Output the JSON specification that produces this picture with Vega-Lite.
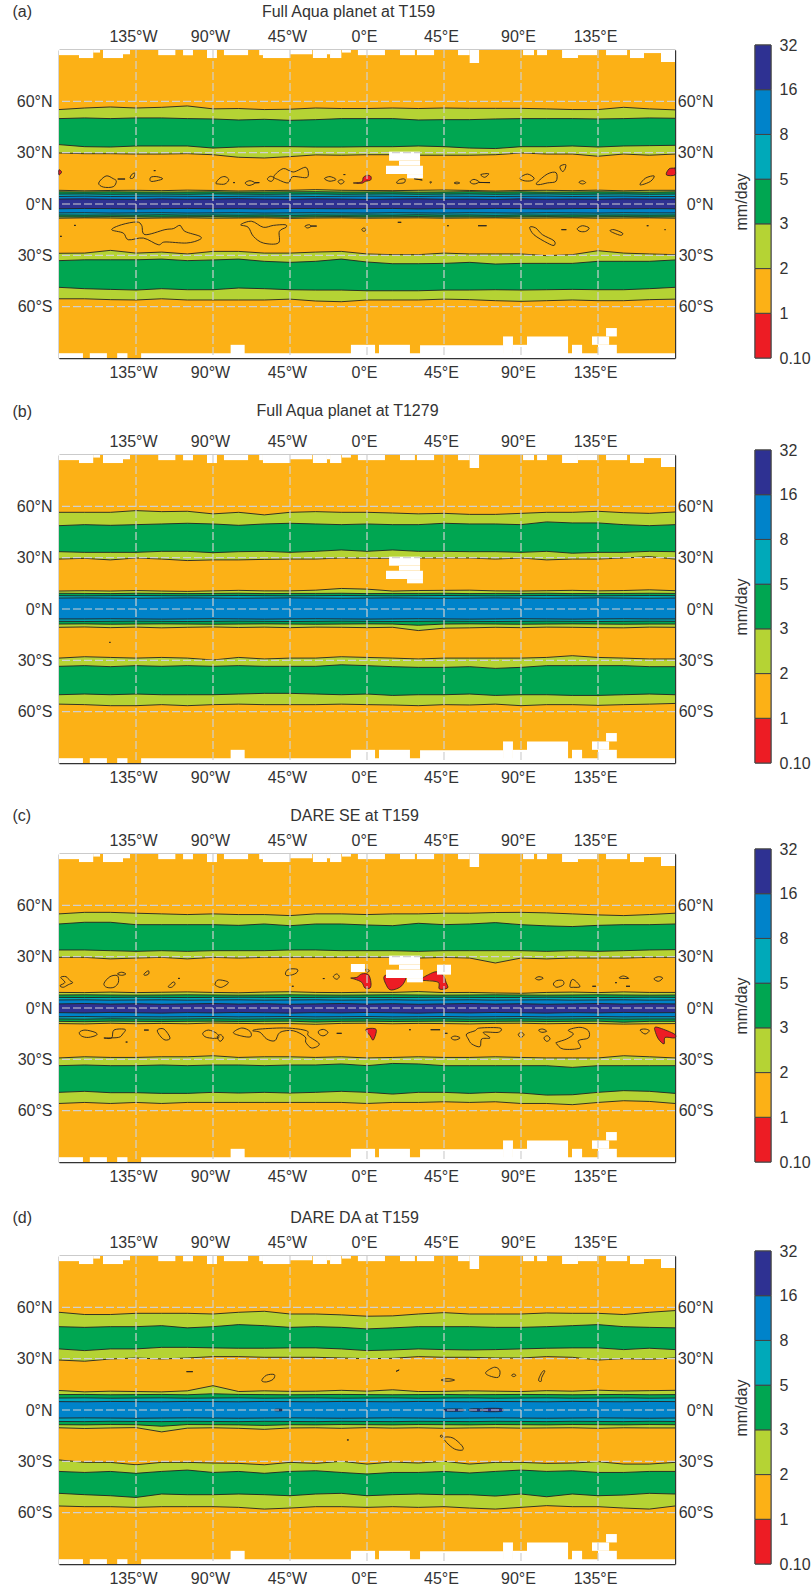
{"$schema":"https://vega.github.io/schema/vega-lite/v6.json","padding":{"left":12,"top":3,"right":0,"bottom":0},"config":{"view":{"stroke":null},"axis":{"labelFont":"Liberation Sans","labelFontSize":16,"labelColor":"#333","ticks":false,"domainColor":"#333","domainWidth":1.4,"labelOverlap":false,"labelFlush":false,"labelBound":false,"titleFont":"Liberation Sans","titleFontSize":16,"titleFontWeight":"normal","titleColor":"#333","zindex":1}},
"datasets":{
"a":[
{"x":-180,"n1":55.2,"n2":49.9,"n3":34.7,"n4":29.8,"t1":8,"t2":7.1,"t3":5.8,"t4":4.4,"t5":2.9,"u5":-2.8,"u4":-5.2,"u3":-6.4,"u2":-7.5,"u1":-8.3,"m4":-28.8,"m3":-33.1,"m2":-48.7,"m1":-55.4},
{"x":-165,"n1":56.1,"n2":50.3,"n3":33.5,"n4":29.4,"t1":7.7,"t2":7,"t3":5.9,"t4":4.6,"t5":3,"u5":-2.6,"u4":-5.1,"u3":-6.5,"u2":-7.6,"u1":-8.1,"m4":-28.7,"m3":-32.6,"m2":-49.5,"m1":-55.4},
{"x":-150,"n1":56.7,"n2":49.9,"n3":33.3,"n4":29.4,"t1":7.9,"t2":7.1,"t3":5.7,"t4":4.4,"t5":2.8,"u5":-2.7,"u4":-5.3,"u3":-6.4,"u2":-7.4,"u1":-8.2,"m4":-27.1,"m3":-32.6,"m2":-49.9,"m1":-55.9},
{"x":-135,"n1":56.1,"n2":50.3,"n3":33.9,"n4":29.2,"t1":8,"t2":7,"t3":5.8,"t4":4.5,"t5":2.7,"u5":-2.9,"u4":-5.2,"u3":-6.5,"u2":-7.5,"u1":-8.4,"m4":-28.7,"m3":-32.6,"m2":-50.3,"m1":-56.1},
{"x":-120,"n1":56.5,"n2":50.3,"n3":33.9,"n4":29.2,"t1":7.8,"t2":6.9,"t3":5.8,"t4":4.6,"t5":3,"u5":-2.7,"u4":-5.1,"u3":-6.3,"u2":-7.6,"u1":-8.2,"m4":-28.1,"m3":-32.2,"m2":-49.5,"m1":-55.4},
{"x":-105,"n1":57.3,"n2":49.9,"n3":33.9,"n4":29.4,"t1":8.1,"t2":7,"t3":5.7,"t4":4.5,"t5":2.8,"u5":-2.6,"u4":-5.3,"u3":-6.5,"u2":-7.5,"u1":-8.1,"m4":-29.2,"m3":-33.1,"m2":-50.1,"m1":-56.1},
{"x":-90,"n1":55.6,"n2":49.7,"n3":32.7,"n4":28.8,"t1":7.9,"t2":7.1,"t3":5.9,"t4":4.4,"t5":2.9,"u5":-2.8,"u4":-5.2,"u3":-6.4,"u2":-7.4,"u1":-8.3,"m4":-27.7,"m3":-32.7,"m2":-50.1,"m1":-56.1},
{"x":-75,"n1":55.8,"n2":49.1,"n3":33.3,"n4":27.3,"t1":7.6,"t2":6.9,"t3":5.8,"t4":4.5,"t5":3.1,"u5":-2.7,"u4":-5.1,"u3":-6.5,"u2":-7.6,"u1":-8.2,"m4":-27.7,"m3":-32.2,"m2":-49.1,"m1":-56.1},
{"x":-60,"n1":55.2,"n2":49.5,"n3":33.5,"n4":26.9,"t1":7.8,"t2":7,"t3":5.7,"t4":4.6,"t5":2.9,"u5":-2.9,"u4":-5.3,"u3":-6.4,"u2":-7.5,"u1":-8.1,"m4":-28.7,"m3":-33.5,"m2":-49.5,"m1":-56.1},
{"x":-45,"n1":55.4,"n2":48.9,"n3":33.5,"n4":27.7,"t1":8,"t2":7.1,"t3":5.8,"t4":4.5,"t5":2.8,"u5":-2.6,"u4":-5.2,"u3":-6.6,"u2":-7.7,"u1":-8.4,"m4":-28.7,"m3":-34.1,"m2":-50.1,"m1":-55.6},
{"x":-30,"n1":56.1,"n2":49.3,"n3":33.3,"n4":28.7,"t1":8.4,"t2":7.2,"t3":5.9,"t4":4.4,"t5":3,"u5":-2.7,"u4":-5.1,"u3":-6.4,"u2":-7.5,"u1":-8.2,"m4":-28.1,"m3":-33.5,"m2":-50.3,"m1":-56.7},
{"x":-15,"n1":55.8,"n2":49.9,"n3":33.3,"n4":28.5,"t1":8,"t2":7,"t3":5.7,"t4":4.5,"t5":2.9,"u5":-2.8,"u4":-5.2,"u3":-6.5,"u2":-7.4,"u1":-8.1,"m4":-27.7,"m3":-32.2,"m2":-50.3,"m1":-57.1},
{"x":0,"n1":55.8,"n2":49.9,"n3":33.5,"n4":28.8,"t1":7.9,"t2":7,"t3":5.8,"t4":4.6,"t5":2.7,"u5":-2.7,"u4":-5.3,"u3":-6.4,"u2":-7.6,"u1":-8.3,"m4":-29.2,"m3":-33.9,"m2":-50.7,"m1":-56.1},
{"x":15,"n1":56.1,"n2":49.9,"n3":33.5,"n4":28.8,"t1":7.8,"t2":7.1,"t3":5.9,"t4":4.5,"t5":2.9,"u5":-2.6,"u4":-5.1,"u3":-6.5,"u2":-7.5,"u1":-8.2,"m4":-29.6,"m3":-34.9,"m2":-50.7,"m1":-56.1},
{"x":30,"n1":55.8,"n2":49.1,"n3":33.9,"n4":28.5,"t1":8,"t2":6.9,"t3":5.7,"t4":4.4,"t5":3,"u5":-2.9,"u4":-5.2,"u3":-6.3,"u2":-7.4,"u1":-8.1,"m4":-29.6,"m3":-34.9,"m2":-50.7,"m1":-56.1},
{"x":45,"n1":56.1,"n2":49.3,"n3":33.5,"n4":28.5,"t1":8.2,"t2":7,"t3":5.8,"t4":4.6,"t5":2.8,"u5":-2.7,"u4":-5.3,"u3":-6.5,"u2":-7.6,"u1":-8.3,"m4":-28.7,"m3":-34.7,"m2":-50.3,"m1":-55.6},
{"x":60,"n1":55.9,"n2":49.3,"n3":32.7,"n4":28.5,"t1":7.9,"t2":7.2,"t3":5.9,"t4":4.5,"t5":2.9,"u5":-2.8,"u4":-5.1,"u3":-6.4,"u2":-7.5,"u1":-8.2,"m4":-29.2,"m3":-34.1,"m2":-50.3,"m1":-55.9},
{"x":75,"n1":55.9,"n2":49.7,"n3":32.4,"n4":28.8,"t1":7.6,"t2":7,"t3":5.7,"t4":4.4,"t5":2.7,"u5":-2.6,"u4":-5.2,"u3":-6.6,"u2":-7.6,"u1":-8.1,"m4":-29.2,"m3":-35.1,"m2":-50.1,"m1":-56.5},
{"x":90,"n1":55.9,"n2":49.9,"n3":33.5,"n4":29.8,"t1":7.9,"t2":7.1,"t3":5.8,"t4":4.5,"t5":3,"u5":-2.7,"u4":-5.3,"u3":-6.4,"u2":-7.5,"u1":-8.3,"m4":-29.2,"m3":-34.7,"m2":-50.3,"m1":-56.9},
{"x":105,"n1":55.6,"n2":49.9,"n3":33.5,"n4":29.2,"t1":8,"t2":6.9,"t3":5.9,"t4":4.6,"t5":2.8,"u5":-2.9,"u4":-5.1,"u3":-6.5,"u2":-7.4,"u1":-8.2,"m4":-30.2,"m3":-34.7,"m2":-50.1,"m1":-56.5},
{"x":120,"n1":55.2,"n2":49.9,"n3":33.9,"n4":29.2,"t1":7.8,"t2":7,"t3":5.7,"t4":4.4,"t5":2.9,"u5":-2.7,"u4":-5.2,"u3":-6.4,"u2":-7.6,"u1":-8.1,"m4":-29.6,"m3":-34.7,"m2":-49.9,"m1":-56.1},
{"x":135,"n1":55.2,"n2":49.7,"n3":33.3,"n4":27.9,"t1":8.1,"t2":7.1,"t3":5.8,"t4":4.5,"t5":2.8,"u5":-2.6,"u4":-5.3,"u3":-6.5,"u2":-7.5,"u1":-8.3,"m4":-27.3,"m3":-33.5,"m2":-50.1,"m1":-56.5},
{"x":150,"n1":56.5,"n2":49.9,"n3":33.9,"n4":29.2,"t1":7.7,"t2":7,"t3":5.9,"t4":4.6,"t5":3,"u5":-2.8,"u4":-5.1,"u3":-6.4,"u2":-7.4,"u1":-8.2,"m4":-28.7,"m3":-33.5,"m2":-50.1,"m1":-56.5},
{"x":165,"n1":55.6,"n2":50.3,"n3":34.1,"n4":28.5,"t1":8,"t2":6.9,"t3":5.7,"t4":4.4,"t5":2.9,"u5":-2.7,"u4":-5.2,"u3":-6.5,"u2":-7.6,"u1":-8.1,"m4":-29.2,"m3":-33.5,"m2":-49.5,"m1":-55.9},
{"x":180,"n1":55,"n2":50.1,"n3":34.3,"n4":29.2,"t1":8,"t2":7.1,"t3":5.8,"t4":4.4,"t5":2.9,"u5":-2.8,"u4":-5.2,"u3":-6.4,"u2":-7.5,"u1":-8.3,"m4":-29.6,"m3":-32.7,"m2":-48.7,"m1":-55.6}],
"b":[
{"x":-180,"n1":56.5,"n2":48.7,"n3":33.5,"n4":29.2,"t1":10.5,"t2":9.2,"t3":7.8,"t4":6.4,"u4":-5.8,"u3":-7.2,"u2":-8.8,"u1":-10.7,"m4":-28.7,"m3":-33.5,"m2":-50.1,"m1":-55.6},
{"x":-165,"n1":56.5,"n2":49.3,"n3":33.1,"n4":29.6,"t1":10.7,"t2":9.1,"t3":7.7,"t4":6.5,"u4":-5.8,"u3":-7.3,"u2":-8.7,"u1":-10.5,"m4":-27.9,"m3":-33.1,"m2":-49.7,"m1":-55.9},
{"x":-150,"n1":56.5,"n2":48.9,"n3":33.1,"n4":28.7,"t1":10.5,"t2":9,"t3":7.8,"t4":6.4,"u4":-5.7,"u3":-7.2,"u2":-8.9,"u1":-10.9,"m4":-28.3,"m3":-33.7,"m2":-50.1,"m1":-56.5},
{"x":-135,"n1":57.5,"n2":49.3,"n3":33.1,"n4":29.8,"t1":10.8,"t2":9.2,"t3":7.9,"t4":6.3,"u4":-5.8,"u3":-7.1,"u2":-8.8,"u1":-10.6,"m4":-28.7,"m3":-33.1,"m2":-49.7,"m1":-56.5},
{"x":-120,"n1":56.9,"n2":49.7,"n3":33.7,"n4":29.2,"t1":10.5,"t2":9.1,"t3":7.8,"t4":6.4,"u4":-5.9,"u3":-7.2,"u2":-8.7,"u1":-11,"m4":-28.3,"m3":-33.5,"m2":-50.1,"m1":-55.9},
{"x":-105,"n1":57.1,"n2":50.1,"n3":33.7,"n4":28.3,"t1":10.3,"t2":9,"t3":7.7,"t4":6.5,"u4":-5.8,"u3":-7.3,"u2":-8.8,"u1":-10.7,"m4":-28.7,"m3":-33.1,"m2":-50.1,"m1":-56.5},
{"x":-90,"n1":55.6,"n2":49.7,"n3":32.9,"n4":28.7,"t1":10.6,"t2":9.1,"t3":7.8,"t4":6.4,"u4":-5.7,"u3":-7.2,"u2":-8.9,"u1":-10.5,"m4":-29.8,"m3":-33.5,"m2":-50.1,"m1":-55.9},
{"x":-75,"n1":56.5,"n2":48.9,"n3":33.5,"n4":28.7,"t1":10.9,"t2":9.2,"t3":7.9,"t4":6.3,"u4":-5.8,"u3":-7.1,"u2":-8.8,"u1":-10.8,"m4":-28.3,"m3":-33.1,"m2":-49.7,"m1":-55.6},
{"x":-60,"n1":55,"n2":49.7,"n3":33.7,"n4":29,"t1":10.6,"t2":9,"t3":7.8,"t4":6.4,"u4":-5.9,"u3":-7.2,"u2":-8.7,"u1":-10.6,"m4":-29.2,"m3":-33.5,"m2":-49.3,"m1":-55.9},
{"x":-45,"n1":56.5,"n2":50.1,"n3":33.1,"n4":29.2,"t1":10.6,"t2":9.1,"t3":7.7,"t4":6.5,"u4":-5.8,"u3":-7.3,"u2":-8.8,"u1":-10.9,"m4":-28.7,"m3":-33.5,"m2":-49.3,"m1":-55.9},
{"x":-30,"n1":56.9,"n2":49.7,"n3":33.7,"n4":29.2,"t1":11,"t2":9.1,"t3":7.8,"t4":6.4,"u4":-5.7,"u3":-7.2,"u2":-8.9,"u1":-10.6,"m4":-28.7,"m3":-33.5,"m2":-49.7,"m1":-55.9},
{"x":-15,"n1":56.5,"n2":49.3,"n3":34.5,"n4":29.8,"t1":12,"t2":9.2,"t3":7.9,"t4":6.3,"u4":-5.8,"u3":-7.1,"u2":-8.8,"u1":-10.7,"m4":-27.9,"m3":-32.6,"m2":-50.1,"m1":-55.6},
{"x":0,"n1":56.5,"n2":49.7,"n3":33.7,"n4":29.6,"t1":11.6,"t2":9,"t3":7.8,"t4":6.4,"u4":-5.9,"u3":-7.2,"u2":-8.7,"u1":-10.9,"m4":-28.3,"m3":-33.1,"m2":-49.7,"m1":-55.9},
{"x":15,"n1":56.1,"n2":49.3,"n3":34.5,"n4":29.6,"t1":10.5,"t2":9.1,"t3":7.7,"t4":6.5,"u4":-5.8,"u3":-7.3,"u2":-8.8,"u1":-10.7,"m4":-28.7,"m3":-33.7,"m2":-50.5,"m1":-56.1},
{"x":30,"n1":55.6,"n2":49.3,"n3":33.7,"n4":29.8,"t1":10.8,"t2":9.1,"t3":7.8,"t4":6.4,"u4":-5.7,"u3":-7.2,"u2":-9.5,"u1":-12.6,"m4":-29.2,"m3":-34.1,"m2":-50.1,"m1":-56.5},
{"x":45,"n1":55.9,"n2":50.1,"n3":33.7,"n4":29.8,"t1":10.9,"t2":9.2,"t3":7.9,"t4":6.3,"u4":-5.8,"u3":-7.1,"u2":-8.8,"u1":-11.2,"m4":-28.7,"m3":-34.1,"m2":-50.1,"m1":-55.9},
{"x":60,"n1":55.3,"n2":49.7,"n3":33.5,"n4":29.8,"t1":11,"t2":9,"t3":7.8,"t4":6.4,"u4":-5.9,"u3":-7.2,"u2":-8.7,"u1":-11,"m4":-28.7,"m3":-33.7,"m2":-49.7,"m1":-56.1},
{"x":75,"n1":55.3,"n2":49.7,"n3":33.5,"n4":29.2,"t1":10.6,"t2":9.1,"t3":7.7,"t4":6.5,"u4":-5.8,"u3":-7.3,"u2":-8.8,"u1":-10.7,"m4":-28.7,"m3":-34.7,"m2":-50.5,"m1":-55.6},
{"x":90,"n1":55.9,"n2":49.3,"n3":33.1,"n4":29.8,"t1":10.5,"t2":9.1,"t3":7.8,"t4":6.4,"u4":-5.7,"u3":-7.2,"u2":-8.9,"u1":-10.9,"m4":-28.7,"m3":-34.1,"m2":-50.1,"m1":-56.5},
{"x":105,"n1":56.5,"n2":50.9,"n3":33.7,"n4":28.7,"t1":10.7,"t2":9.2,"t3":7.9,"t4":6.3,"u4":-5.8,"u3":-7.1,"u2":-8.8,"u1":-10.6,"m4":-28.3,"m3":-33.1,"m2":-50.1,"m1":-55.9},
{"x":120,"n1":56.5,"n2":50.3,"n3":32.6,"n4":29.2,"t1":10.9,"t2":9,"t3":7.8,"t4":6.4,"u4":-5.9,"u3":-7.2,"u2":-8.7,"u1":-10.7,"m4":-27.3,"m3":-33.1,"m2":-50.5,"m1":-55.9},
{"x":135,"n1":57.1,"n2":50.3,"n3":33.1,"n4":29.2,"t1":10.6,"t2":9.1,"t3":7.7,"t4":6.5,"u4":-5.8,"u3":-7.3,"u2":-8.8,"u1":-10.9,"m4":-28.3,"m3":-33.1,"m2":-50.5,"m1":-56.3},
{"x":150,"n1":56.3,"n2":49.3,"n3":33.1,"n4":29.8,"t1":10.8,"t2":9.1,"t3":7.8,"t4":6.4,"u4":-5.7,"u3":-7.2,"u2":-8.9,"u1":-11,"m4":-28.7,"m3":-33.1,"m2":-50.1,"m1":-55.9},
{"x":165,"n1":55.9,"n2":48.7,"n3":33.7,"n4":30.6,"t1":11.2,"t2":9.2,"t3":7.9,"t4":6.3,"u4":-5.8,"u3":-7.1,"u2":-8.8,"u1":-10.6,"m4":-29.2,"m3":-33.7,"m2":-49.7,"m1":-55.6},
{"x":180,"n1":56.7,"n2":49.3,"n3":33.5,"n4":29.2,"t1":10.7,"t2":9.1,"t3":7.8,"t4":6.4,"u4":-5.8,"u3":-7.2,"u2":-8.8,"u1":-10.7,"m4":-29.2,"m3":-33.7,"m2":-50.1,"m1":-55.2}],
"c":[
{"x":-180,"n1":55,"n2":49.1,"n3":33.9,"n4":29.6,"t1":9.1,"t2":7.6,"t3":6.2,"t4":4.7,"t5":2.4,"u5":-2.7,"u4":-5.1,"u3":-6.4,"u2":-7.8,"u1":-9.1,"m4":-29.2,"m3":-33.7,"m2":-49.3,"m1":-55.8},
{"x":-165,"n1":55.9,"n2":50.1,"n3":33.9,"n4":29.6,"t1":9,"t2":7.7,"t3":6.1,"t4":4.8,"t5":2.6,"u5":-2.9,"u4":-5,"u3":-6.5,"u2":-8,"u1":-9.3,"m4":-28.5,"m3":-33.3,"m2":-48.7,"m1":-55.2},
{"x":-150,"n1":55.9,"n2":50.1,"n3":33.5,"n4":28.7,"t1":9.3,"t2":7.6,"t3":6.2,"t4":4.6,"t5":2.3,"u5":-2.6,"u4":-5.2,"u3":-6.3,"u2":-7.7,"u1":-8.9,"m4":-28.9,"m3":-33.7,"m2":-49.5,"m1":-55.8},
{"x":-135,"n1":55.4,"n2":48.7,"n3":33.1,"n4":29.2,"t1":9,"t2":7.5,"t3":6.3,"t4":4.7,"t5":2.5,"u5":-2.8,"u4":-5.1,"u3":-6.4,"u2":-7.8,"u1":-9.2,"m4":-28.9,"m3":-33.7,"m2":-49.5,"m1":-55.2},
{"x":-120,"n1":55,"n2":48.7,"n3":33.5,"n4":29.6,"t1":9.2,"t2":7.6,"t3":6.2,"t4":4.8,"t5":2.2,"u5":-3,"u4":-5.2,"u3":-6.5,"u2":-7.9,"u1":-9,"m4":-28.5,"m3":-33.3,"m2":-49.9,"m1":-55.8},
{"x":-105,"n1":54.6,"n2":48.7,"n3":33.1,"n4":28.7,"t1":9.4,"t2":7.7,"t3":6.1,"t4":4.6,"t5":2.4,"u5":-2.7,"u4":-5.1,"u3":-6.4,"u2":-7.8,"u1":-9.2,"m4":-28.5,"m3":-33.7,"m2":-49.9,"m1":-55.2},
{"x":-90,"n1":55,"n2":48.7,"n3":33.5,"n4":29.6,"t1":9.1,"t2":7.6,"t3":6.2,"t4":4.7,"t5":2.6,"u5":-2.9,"u4":-5,"u3":-6.3,"u2":-7.7,"u1":-8.8,"m4":-27.9,"m3":-33.3,"m2":-49.3,"m1":-55.2},
{"x":-75,"n1":54.6,"n2":48.3,"n3":33.5,"n4":29.2,"t1":8.9,"t2":7.5,"t3":6.3,"t4":4.8,"t5":2.3,"u5":-2.6,"u4":-5.2,"u3":-6.5,"u2":-7.9,"u1":-9,"m4":-28.9,"m3":-33.3,"m2":-49.7,"m1":-55.2},
{"x":-60,"n1":54.6,"n2":49.1,"n3":33.5,"n4":29.6,"t1":9.3,"t2":7.6,"t3":6.2,"t4":4.6,"t5":2.5,"u5":-2.8,"u4":-5.1,"u3":-6.4,"u2":-7.8,"u1":-9.2,"m4":-28.5,"m3":-33.7,"m2":-49.3,"m1":-55.2},
{"x":-45,"n1":54,"n2":48.1,"n3":33.9,"n4":29.6,"t1":9.5,"t2":7.7,"t3":6.1,"t4":4.7,"t5":2.2,"u5":-3,"u4":-5,"u3":-6.3,"u2":-7.7,"u1":-9.1,"m4":-28.5,"m3":-33.3,"m2":-49.7,"m1":-55.2},
{"x":-30,"n1":55,"n2":49.1,"n3":33.9,"n4":29.6,"t1":9.1,"t2":7.6,"t3":6.2,"t4":4.8,"t5":2.4,"u5":-2.7,"u4":-5.2,"u3":-6.5,"u2":-8.2,"u1":-9.5,"m4":-28.9,"m3":-33.3,"m2":-49.3,"m1":-55.2},
{"x":-15,"n1":55,"n2":49.1,"n3":33.5,"n4":29.6,"t1":9,"t2":7.5,"t3":6.3,"t4":4.6,"t5":2.6,"u5":-2.9,"u4":-5.1,"u3":-6.4,"u2":-7.8,"u1":-9,"m4":-28.5,"m3":-32.7,"m2":-48.7,"m1":-55.2},
{"x":0,"n1":54.6,"n2":48.5,"n3":33.5,"n4":29.6,"t1":9.2,"t2":7.6,"t3":6.2,"t4":4.7,"t5":2.3,"u5":-2.6,"u4":-5,"u3":-6.3,"u2":-7.7,"u1":-8.9,"m4":-29.2,"m3":-33.7,"m2":-49.3,"m1":-55.8},
{"x":15,"n1":55,"n2":48.1,"n3":33.5,"n4":29.6,"t1":9.1,"t2":7.7,"t3":6.1,"t4":4.8,"t5":2.5,"u5":-2.8,"u4":-5.2,"u3":-6.5,"u2":-7.9,"u1":-9.2,"m4":-28.9,"m3":-32.4,"m2":-50.3,"m1":-55.2},
{"x":30,"n1":55,"n2":49.5,"n3":33.1,"n4":29.2,"t1":9.6,"t2":7.6,"t3":6.2,"t4":4.6,"t5":2.2,"u5":-3,"u4":-5.1,"u3":-6.4,"u2":-7.8,"u1":-9,"m4":-28.5,"m3":-32.7,"m2":-49.3,"m1":-55.2},
{"x":45,"n1":55.4,"n2":48.7,"n3":33.5,"n4":29.6,"t1":9,"t2":7.5,"t3":6.3,"t4":4.7,"t5":2.4,"u5":-2.7,"u4":-5,"u3":-6.3,"u2":-7.7,"u1":-9.1,"m4":-28.9,"m3":-33.7,"m2":-49.3,"m1":-54.8},
{"x":60,"n1":55.4,"n2":49.1,"n3":33.5,"n4":29.2,"t1":9.1,"t2":7.6,"t3":6.2,"t4":4.8,"t5":2.6,"u5":-2.9,"u4":-5.2,"u3":-6.5,"u2":-7.9,"u1":-9.3,"m4":-28.9,"m3":-33.7,"m2":-49.9,"m1":-55.2},
{"x":75,"n1":55.8,"n2":49.9,"n3":33.5,"n4":26.3,"t1":8.8,"t2":7.7,"t3":6.1,"t4":4.6,"t5":2.3,"u5":-2.6,"u4":-5.1,"u3":-6.4,"u2":-7.8,"u1":-9,"m4":-28.5,"m3":-33.7,"m2":-49.3,"m1":-54.8},
{"x":90,"n1":55.9,"n2":48.7,"n3":33.5,"n4":29.2,"t1":8.6,"t2":7.6,"t3":6.2,"t4":4.7,"t5":2.5,"u5":-2.8,"u4":-5,"u3":-6.3,"u2":-7.7,"u1":-8.9,"m4":-28.9,"m3":-33.7,"m2":-49.7,"m1":-55.8},
{"x":105,"n1":55.6,"n2":48,"n3":33.1,"n4":28.7,"t1":9.1,"t2":7.5,"t3":6.3,"t4":4.8,"t5":2.2,"u5":-3,"u4":-5.2,"u3":-6.5,"u2":-7.9,"u1":-9.2,"m4":-29.2,"m3":-33.7,"m2":-50.9,"m1":-55.8},
{"x":120,"n1":55,"n2":47.6,"n3":33.5,"n4":29.2,"t1":9.3,"t2":7.6,"t3":6.2,"t4":4.6,"t5":2.4,"u5":-2.7,"u4":-5.1,"u3":-6.4,"u2":-7.8,"u1":-9,"m4":-29.2,"m3":-34.7,"m2":-50.7,"m1":-56.5},
{"x":135,"n1":54.4,"n2":48.3,"n3":33.1,"n4":29.2,"t1":9,"t2":7.7,"t3":6.1,"t4":4.7,"t5":2.6,"u5":-2.9,"u4":-5,"u3":-6.3,"u2":-7.7,"u1":-9.1,"m4":-29.2,"m3":-33.7,"m2":-49.3,"m1":-55.2},
{"x":150,"n1":54,"n2":48.7,"n3":33.5,"n4":29.2,"t1":9.4,"t2":7.6,"t3":6.2,"t4":4.8,"t5":2.3,"u5":-2.6,"u4":-5.2,"u3":-6.5,"u2":-8.3,"u1":-9.4,"m4":-27.9,"m3":-33.7,"m2":-48.3,"m1":-54.2},
{"x":165,"n1":54.6,"n2":48.7,"n3":33.9,"n4":29.6,"t1":9.1,"t2":7.5,"t3":6.3,"t4":4.6,"t5":2.5,"u5":-2.8,"u4":-5.1,"u3":-6.4,"u2":-7.8,"u1":-9.2,"m4":-28.5,"m3":-33.7,"m2":-48.7,"m1":-54.6},
{"x":180,"n1":55.4,"n2":49.1,"n3":34.1,"n4":29.6,"t1":9.1,"t2":7.6,"t3":6.2,"t4":4.7,"t5":2.4,"u5":-2.7,"u4":-5.1,"u3":-6.4,"u2":-7.8,"u1":-9.1,"m4":-29.2,"m3":-33.7,"m2":-49.9,"m1":-55.8}],
"d":[
{"x":-180,"n1":57.1,"n2":48.7,"n3":35.7,"n4":29.2,"t1":11.4,"t2":9,"t3":7,"t4":4.9,"u4":-4.7,"u3":-6.7,"u2":-8.6,"u1":-10.4,"m4":-29.2,"m3":-35.9,"m2":-48.7,"m1":-56.1},
{"x":-165,"n1":55.8,"n2":48.3,"n3":34.7,"n4":28.5,"t1":10.6,"t2":9.1,"t3":7.1,"t4":4.8,"u4":-4.6,"u3":-6.8,"u2":-8.7,"u1":-10.8,"m4":-30.6,"m3":-36.5,"m2":-49.5,"m1":-56.5},
{"x":-150,"n1":55.8,"n2":48.7,"n3":35.7,"n4":29.8,"t1":11,"t2":8.9,"t3":6.9,"t4":5,"u4":-4.7,"u3":-6.6,"u2":-8.5,"u1":-10.5,"m4":-30.6,"m3":-35.9,"m2":-50.1,"m1":-56.5},
{"x":-135,"n1":56.5,"n2":48.7,"n3":35.7,"n4":30.4,"t1":10.8,"t2":9,"t3":7,"t4":4.9,"u4":-4.8,"u3":-6.7,"u2":-8.6,"u1":-10.3,"m4":-32,"m3":-37,"m2":-51.1,"m1":-56.9},
{"x":-120,"n1":56.5,"n2":49.3,"n3":36.6,"n4":29.8,"t1":10.6,"t2":9.1,"t3":7.1,"t4":4.8,"u4":-4.7,"u3":-6.8,"u2":-9.5,"u1":-12.8,"m4":-30.6,"m3":-35.9,"m2":-49.1,"m1":-56.5},
{"x":-105,"n1":56.5,"n2":48,"n3":36.6,"n4":30.4,"t1":11.2,"t2":8.9,"t3":6.9,"t4":5,"u4":-4.6,"u3":-6.6,"u2":-8.5,"u1":-10.6,"m4":-30.6,"m3":-35.1,"m2":-49.5,"m1":-56.5},
{"x":-90,"n1":56.1,"n2":48.7,"n3":36.3,"n4":31.2,"t1":14.2,"t2":9.5,"t3":7,"t4":4.9,"u4":-4.7,"u3":-6.7,"u2":-8.6,"u1":-10.4,"m4":-31,"m3":-36.5,"m2":-49.5,"m1":-56.5},
{"x":-75,"n1":57.1,"n2":49.9,"n3":36.1,"n4":31.2,"t1":10.8,"t2":9.1,"t3":7.1,"t4":4.8,"u4":-4.8,"u3":-6.8,"u2":-8.7,"u1":-10.7,"m4":-31.2,"m3":-35.9,"m2":-49.1,"m1":-56.9},
{"x":-60,"n1":57.7,"n2":49.3,"n3":36.1,"n4":30.8,"t1":11.2,"t2":9,"t3":6.9,"t4":5,"u4":-4.7,"u3":-6.6,"u2":-9,"u1":-11.3,"m4":-32,"m3":-37,"m2":-49.5,"m1":-57.9},
{"x":-45,"n1":56.1,"n2":48.3,"n3":36.3,"n4":30.8,"t1":10.9,"t2":8.9,"t3":7,"t4":4.9,"u4":-4.6,"u3":-6.7,"u2":-8.6,"u1":-10.5,"m4":-30.6,"m3":-35.9,"m2":-50.1,"m1":-57.3},
{"x":-30,"n1":56.1,"n2":48.7,"n3":36.3,"n4":30.8,"t1":11,"t2":9,"t3":7.1,"t4":4.8,"u4":-4.7,"u3":-6.8,"u2":-8.7,"u1":-10.4,"m4":-31.2,"m3":-35.5,"m2":-49.1,"m1":-56.5},
{"x":-15,"n1":55.6,"n2":48.3,"n3":35.7,"n4":30.4,"t1":11.5,"t2":9.1,"t3":6.9,"t4":5,"u4":-4.8,"u3":-6.6,"u2":-8.5,"u1":-10.7,"m4":-30,"m3":-36.5,"m2":-48.7,"m1":-56.5},
{"x":0,"n1":54.8,"n2":47.4,"n3":34.7,"n4":30,"t1":11,"t2":9,"t3":7,"t4":4.9,"u4":-4.7,"u3":-6.7,"u2":-8.6,"u1":-10.3,"m4":-31.6,"m3":-37.4,"m2":-50.1,"m1":-56.9},
{"x":15,"n1":55,"n2":48,"n3":35.1,"n4":30.2,"t1":11.8,"t2":8.9,"t3":7.1,"t4":4.8,"u4":-4.6,"u3":-6.8,"u2":-8.7,"u1":-10.6,"m4":-30.4,"m3":-36.5,"m2":-49.5,"m1":-56.5},
{"x":30,"n1":56.1,"n2":48.7,"n3":35.7,"n4":31.2,"t1":10.8,"t2":9,"t3":6.9,"t4":5,"u4":-4.7,"u3":-6.6,"u2":-8.5,"u1":-10.4,"m4":-31,"m3":-36.5,"m2":-49.1,"m1":-56.9},
{"x":45,"n1":56.9,"n2":48.7,"n3":35.3,"n4":30.8,"t1":10.9,"t2":9.1,"t3":7,"t4":4.9,"u4":-4.8,"u3":-6.7,"u2":-8.6,"u1":-10.7,"m4":-30,"m3":-35.9,"m2":-49.5,"m1":-56.5},
{"x":60,"n1":56.1,"n2":48.7,"n3":35.1,"n4":30.8,"t1":11.2,"t2":8.9,"t3":7.1,"t4":4.8,"u4":-4.7,"u3":-6.8,"u2":-8.7,"u1":-10.5,"m4":-31.6,"m3":-36.8,"m2":-49.5,"m1":-57.3},
{"x":75,"n1":56.1,"n2":48.3,"n3":35.3,"n4":30.4,"t1":11,"t2":9,"t3":6.9,"t4":5,"u4":-4.6,"u3":-6.6,"u2":-8.5,"u1":-10.4,"m4":-30.6,"m3":-35.9,"m2":-50.3,"m1":-57.9},
{"x":90,"n1":56.1,"n2":48.3,"n3":35.7,"n4":30.4,"t1":10.8,"t2":9.1,"t3":7,"t4":4.9,"u4":-4.7,"u3":-6.7,"u2":-8.6,"u1":-10.6,"m4":-30.6,"m3":-35.1,"m2":-49.1,"m1":-56.9},
{"x":105,"n1":56.7,"n2":48.7,"n3":36.1,"n4":31.2,"t1":11.3,"t2":9,"t3":7.1,"t4":4.8,"u4":-4.8,"u3":-6.8,"u2":-8.7,"u1":-10.5,"m4":-31.2,"m3":-35.9,"m2":-50.7,"m1":-55.9},
{"x":120,"n1":56.5,"n2":49.3,"n3":36.3,"n4":30.8,"t1":11,"t2":8.9,"t3":6.9,"t4":5,"u4":-4.7,"u3":-6.6,"u2":-8.5,"u1":-10.4,"m4":-31,"m3":-35.5,"m2":-49.1,"m1":-56.5},
{"x":135,"n1":56.5,"n2":49.9,"n3":36.3,"n4":29.2,"t1":11.6,"t2":9,"t3":7,"t4":4.9,"u4":-4.6,"u3":-6.7,"u2":-8.6,"u1":-10.7,"m4":-30.2,"m3":-36.5,"m2":-50.1,"m1":-56.5},
{"x":150,"n1":55.8,"n2":48.7,"n3":35.3,"n4":30,"t1":11.1,"t2":9.1,"t3":7.1,"t4":4.8,"u4":-4.7,"u3":-6.8,"u2":-8.7,"u1":-10.4,"m4":-31.6,"m3":-36.5,"m2":-49.7,"m1":-57.3},
{"x":165,"n1":57.1,"n2":48.3,"n3":36.1,"n4":29.6,"t1":11.3,"t2":8.9,"t3":6.9,"t4":5,"u4":-4.8,"u3":-6.6,"u2":-8.5,"u1":-10.5,"m4":-31.6,"m3":-35.9,"m2":-48.7,"m1":-57.9},
{"x":180,"n1":58.1,"n2":48,"n3":35.3,"n4":30.4,"t1":11.5,"t2":9,"t3":7,"t4":4.9,"u4":-4.7,"u3":-6.7,"u2":-8.6,"u1":-10.5,"m4":-30.6,"m3":-35.9,"m2":-49.1,"m1":-56.1}],
"bg":[{"x1":-180,"x2":180,"y1":-90,"y2":90}],
"gx":[{"v":-135},{"v":-90},{"v":-45},{"v":0},{"v":45},{"v":90},{"v":135}],
"gy":[{"v":-60},{"v":-30},{"v":0},{"v":30},{"v":60}],
"mask":[
{"s":0,"x1":-180,"x2":-168.3,"y1":87,"y2":90},{"s":0,"x1":-168.3,"x2":-160,"y1":85.3,"y2":90},{"s":0,"x1":-160,"x2":-156,"y1":88.5,"y2":90},{"s":0,"x1":-154.3,"x2":-142.6,"y1":85.3,"y2":90},{"s":0,"x1":-142.6,"x2":-138.5,"y1":87.5,"y2":90},{"s":0,"x1":-122,"x2":-112,"y1":87,"y2":90},{"s":0,"x1":-107.5,"x2":-101.7,"y1":87,"y2":90},{"s":0,"x1":-93.5,"x2":-87.7,"y1":85.3,"y2":90},{"s":0,"x1":-83.6,"x2":-69.5,"y1":87,"y2":90},{"s":0,"x1":-63,"x2":-60.8,"y1":87,"y2":90},{"s":0,"x1":-60.8,"x2":-45,"y1":85.3,"y2":90},{"s":0,"x1":-45,"x2":-32,"y1":87.5,"y2":90},{"s":0,"x1":-31.6,"x2":-23.4,"y1":85.3,"y2":90},{"s":0,"x1":-23.4,"x2":-21.6,"y1":87.5,"y2":90},{"s":0,"x1":-21.6,"x2":-15,"y1":85.3,"y2":90},{"s":0,"x1":-14.6,"x2":-9.4,"y1":88.5,"y2":90},{"s":0,"x1":-5.3,"x2":10.5,"y1":87,"y2":90},{"s":0,"x1":19.3,"x2":28,"y1":87,"y2":90},{"s":0,"x1":29.2,"x2":39.2,"y1":87,"y2":90},{"s":0,"x1":53.2,"x2":60,"y1":87,"y2":90},{"s":0,"x1":60,"x2":65.5,"y1":82.4,"y2":90},{"s":0,"x1":91.2,"x2":97.6,"y1":87,"y2":90},{"s":0,"x1":99.4,"x2":105.2,"y1":87,"y2":90},{"s":0,"x1":114,"x2":123.3,"y1":85.3,"y2":90},{"s":0,"x1":123.3,"x2":134.4,"y1":87,"y2":90},{"s":0,"x1":139.7,"x2":152,"y1":87,"y2":90},{"s":0,"x1":153.7,"x2":161.9,"y1":85.3,"y2":90},{"s":0,"x1":161.9,"x2":171.8,"y1":88.2,"y2":90},{"s":0,"x1":171.8,"x2":180,"y1":83,"y2":90},
{"s":0,"x1":-180,"x2":-166,"y1":-90,"y2":-87.2},{"s":0,"x1":-162,"x2":-152,"y1":-90,"y2":-87.2},{"s":0,"x1":-146,"x2":-140,"y1":-90,"y2":-87.2},{"s":0,"x1":-132,"x2":180,"y1":-90,"y2":-87.2},{"s":0,"x1":-79.7,"x2":-71.5,"y1":-90,"y2":-82.3},{"s":0,"x1":-9.4,"x2":4.7,"y1":-90,"y2":-82.3},{"s":0,"x1":7,"x2":25.1,"y1":-90,"y2":-82.3},{"s":0,"x1":31,"x2":79.5,"y1":-90,"y2":-82.5},{"s":0,"x1":79.5,"x2":85.3,"y1":-90,"y2":-77.4},{"s":0,"x1":85.3,"x2":93.5,"y1":-90,"y2":-82.3},{"s":0,"x1":93.5,"x2":117.5,"y1":-90,"y2":-77.4},{"s":0,"x1":119.8,"x2":125.7,"y1":-90,"y2":-82.3},{"s":0,"x1":135,"x2":146,"y1":-90,"y2":-82.3},{"s":0,"x1":131.5,"x2":141.5,"y1":-82.3,"y2":-77.4},{"s":0,"x1":139.7,"x2":146,"y1":-77.4,"y2":-72.5},
{"s":1,"x1":12.9,"x2":31,"y1":25.3,"y2":30.6},{"s":1,"x1":18.7,"x2":31,"y1":22.4,"y2":25.3},{"s":1,"x1":11.1,"x2":32.7,"y1":17.5,"y2":22.4},{"s":1,"x1":23.4,"x2":32.7,"y1":15,"y2":17.5},
{"s":2,"x1":-9.4,"x2":-1.2,"y1":21,"y2":25.7},{"s":2,"x1":40.9,"x2":49.1,"y1":19.5,"y2":25.3}],
"bar":[{"lo":0,"hi":1},{"lo":1,"hi":2},{"lo":2,"hi":3},{"lo":3,"hi":4},{"lo":4,"hi":5},{"lo":5,"hi":6},{"lo":6,"hi":7}],
"spacer":[{"z":1}],
"ia":[
{"k":"A1","x":-156.8,"y":12.3},{"k":"A1","x":-152.5,"y":16.4},{"k":"A1","x":-148.3,"y":14.8},{"k":"A1","x":-146.5,"y":13.3},{"k":"A1","x":-148.3,"y":10.1},{"k":"A1","x":-154.1,"y":9.9},
{"k":"A2","x":-145.7,"y":14.6},{"k":"A2","x":-141.4,"y":14.6},
{"k":"A3","x":-138.5,"y":15.2},{"k":"A3","x":-137.2,"y":17.5},{"k":"A3","x":-135.6,"y":17.9},{"k":"A3","x":-136.6,"y":15.2},
{"k":"A4","x":-124.6,"y":19.5},{"k":"A4","x":-123.6,"y":19.5},
{"k":"A5","x":-126.4,"y":15.6},{"k":"A5","x":-122.9,"y":16},{"k":"A5","x":-119.4,"y":14.8},{"k":"A5","x":-122.9,"y":13.6},{"k":"A5","x":-126.4,"y":13.3},
{"k":"A6","x":-88.3,"y":12.3},{"k":"A6","x":-85.9,"y":15.2},{"k":"A6","x":-83,"y":16},{"k":"A6","x":-80.8,"y":14.2},{"k":"A6","x":-83,"y":11.7},{"k":"A6","x":-86.9,"y":11.7},
{"k":"A7","x":-78.2,"y":12.5},{"k":"A7","x":-77.2,"y":12.5},
{"k":"A8","x":-71.1,"y":12.5},{"k":"A8","x":-68.4,"y":13.6},{"k":"A8","x":-65.5,"y":12.3},{"k":"A8","x":-68.4,"y":10.9},{"k":"A8","x":-70.3,"y":11.3},
{"k":"A8b","x":-65.5,"y":12.4},{"k":"A8b","x":-62.9,"y":12.5},
{"k":"A9","x":-58.1,"y":15},{"k":"A9","x":-56.3,"y":16.2},{"k":"A9","x":-54.4,"y":15.2},{"k":"A9","x":-55.7,"y":13.3},{"k":"A9","x":-57.7,"y":13.8},
{"k":"A10","x":-54.4,"y":16.2},{"k":"A10","x":-48.9,"y":20.7},{"k":"A10","x":-43.1,"y":18.7},{"k":"A10","x":-35.7,"y":21.4},{"k":"A10","x":-34.9,"y":15.6},{"k":"A10","x":-43.4,"y":16},{"k":"A10","x":-46,"y":12.3},{"k":"A10","x":-51.8,"y":14.2},
{"k":"A11","x":-24.5,"y":15.2},{"k":"A11","x":-21.6,"y":16},{"k":"A11","x":-18.1,"y":14.4},{"k":"A11","x":-21.6,"y":13.3},{"k":"A11","x":-24.5,"y":14.4},
{"k":"A12","x":-16.9,"y":13.3},{"k":"A12","x":-14.8,"y":14.2},{"k":"A12","x":-13.4,"y":12.9},{"k":"A12","x":-15.4,"y":11.7},
{"k":"A13","x":-13.7,"y":17.2},{"k":"A13","x":-12.7,"y":17.2},
{"k":"A16","x":17.3,"y":12.3},{"k":"A16","x":18.9,"y":14.2},{"k":"A16","x":22,"y":14.6},{"k":"A16","x":22,"y":12.7},{"k":"A16","x":19.7,"y":12.1},
{"k":"A17","x":27.5,"y":14.8},{"k":"A17","x":32.3,"y":14},
{"k":"A18","x":36.7,"y":12.9},{"k":"A18","x":37.7,"y":12.9},{"k":"A18","x":37.2,"y":12.2},
{"k":"A19","x":50.9,"y":12.3},{"k":"A19","x":52.5,"y":12.8},{"k":"A19","x":54.2,"y":12.3},{"k":"A19","x":52.5,"y":11.8},
{"k":"A20","x":60.2,"y":12.9},{"k":"A20","x":62.5,"y":14.4},{"k":"A20","x":65.5,"y":12.9},{"k":"A20","x":62.5,"y":11.7},
{"k":"A20b","x":65.5,"y":12.6},{"k":"A20b","x":71.9,"y":12.5},
{"k":"A21","x":66.5,"y":17.2},{"k":"A21","x":71.1,"y":17.7},{"k":"A21","x":68.8,"y":15.6},
{"k":"A22","x":89.4,"y":15.2},{"k":"A22","x":93.7,"y":17.5},{"k":"A22","x":97.6,"y":15.2},{"k":"A22","x":96,"y":13.6},{"k":"A22","x":91.8,"y":13.6},
{"k":"A23","x":99.2,"y":12.3},{"k":"A23","x":105.4,"y":17.5},{"k":"A23","x":110.5,"y":18.3},{"k":"A23","x":110.5,"y":13.3},{"k":"A23","x":105.4,"y":12.3},{"k":"A23","x":100.5,"y":11.3},
{"k":"A24","x":112.8,"y":22},{"k":"A24","x":116.1,"y":23},{"k":"A24","x":115.5,"y":20},{"k":"A24","x":114,"y":19.1},
{"k":"A25","x":123.9,"y":12.7},{"k":"A25","x":125.9,"y":13.6},{"k":"A25","x":127.8,"y":12.5},{"k":"A25","x":125.9,"y":11.7},
{"k":"A26","x":159.6,"y":11.7},{"k":"A26","x":162.9,"y":15.2},{"k":"A26","x":167.8,"y":16.4},{"k":"A26","x":165.8,"y":13.3},{"k":"A26","x":160.9,"y":11.3},
{"k":"S1","x":-149.2,"y":-15},{"k":"S1","x":-143.4,"y":-12.1},{"k":"S1","x":-134.6,"y":-10.5},{"k":"S1","x":-131.7,"y":-12.5},{"k":"S1","x":-129.7,"y":-17.9},{"k":"S1","x":-118.1,"y":-15},{"k":"S1","x":-113.2,"y":-14.4},{"k":"S1","x":-109.3,"y":-12.5},{"k":"S1","x":-106.4,"y":-16},{"k":"S1","x":-97.6,"y":-18.9},{"k":"S1","x":-98,"y":-20.9},{"k":"S1","x":-105.4,"y":-22.8},{"k":"S1","x":-118.1,"y":-22.2},{"k":"S1","x":-122,"y":-23.8},{"k":"S1","x":-130.7,"y":-19.9},{"k":"S1","x":-139.5,"y":-20.9},{"k":"S1","x":-142.4,"y":-17},
{"k":"S2","x":-73.8,"y":-12.1},{"k":"S2","x":-67.4,"y":-10.1},{"k":"S2","x":-60.6,"y":-13.6},{"k":"S2","x":-54.7,"y":-12.5},{"k":"S2","x":-47.9,"y":-12.1},{"k":"S2","x":-47.3,"y":-13.6},{"k":"S2","x":-51.2,"y":-16},{"k":"S2","x":-51.8,"y":-22.8},{"k":"S2","x":-60.6,"y":-22.8},{"k":"S2","x":-66.4,"y":-18.9},{"k":"S2","x":-69.4,"y":-13.6},
{"k":"S3","x":-36.2,"y":-12.9},{"k":"S3","x":-33.7,"y":-12.1},{"k":"S3","x":-32.9,"y":-13.3},{"k":"S3","x":-34.9,"y":-14},
{"k":"S3b","x":-32.9,"y":-12.9},{"k":"S3b","x":-29.4,"y":-12.9},
{"k":"S4","x":-3.1,"y":-15},{"k":"S4","x":-1.8,"y":-14},{"k":"S4","x":-0.6,"y":-15},{"k":"S4","x":-1.8,"y":-16},
{"k":"S5","x":-171.2,"y":-12.5},{"k":"S5","x":-170.2,"y":-12.5},
{"k":"S6","x":-179.4,"y":-18.9},{"k":"S6","x":-178.4,"y":-18.9},
{"k":"S7","x":18,"y":-10.7},{"k":"S7","x":20,"y":-10.7},
{"k":"S8","x":46.8,"y":-12.7},{"k":"S8","x":47.8,"y":-12.7},
{"k":"S8b","x":64.9,"y":-12.7},{"k":"S8b","x":69.9,"y":-12.7},
{"k":"S9","x":95.1,"y":-13.6},{"k":"S9","x":98.6,"y":-14},{"k":"S9","x":102.5,"y":-17.9},{"k":"S9","x":109.3,"y":-21.5},{"k":"S9","x":109.3,"y":-24.2},{"k":"S9","x":105.4,"y":-22.8},{"k":"S9","x":97.6,"y":-18},
{"k":"S10","x":113.6,"y":-15},{"k":"S10","x":116.5,"y":-15},
{"k":"S11","x":122.9,"y":-14.4},{"k":"S11","x":125.9,"y":-12.7},{"k":"S11","x":129.8,"y":-14},{"k":"S11","x":127.8,"y":-16},{"k":"S11","x":124.5,"y":-16},
{"k":"S12","x":142,"y":-15.6},{"k":"S12","x":144.4,"y":-15},{"k":"S12","x":149.3,"y":-17},{"k":"S12","x":148.3,"y":-18.3},{"k":"S12","x":144.4,"y":-17},
{"k":"S13","x":163.5,"y":-12.7},{"k":"S13","x":164.5,"y":-12.7},
{"k":"S14","x":173.9,"y":-15},{"k":"S14","x":174.5,"y":-15}],
"ib":[{"k":"B1","x":-150.6,"y":-19.5},{"k":"B1","x":-149.9,"y":-19.5}],
"ic":[
{"k":"C1","x":-179,"y":17.9},{"k":"C1","x":-175.9,"y":18.3},{"k":"C1","x":-173.6,"y":16},{"k":"C1","x":-172,"y":14.8},{"k":"C1","x":-174.6,"y":13.6},{"k":"C1","x":-177.5,"y":12.1},{"k":"C1","x":-179.4,"y":13.1},{"k":"C1","x":-176.5,"y":15},
{"k":"C2","x":-153.7,"y":14.4},{"k":"C2","x":-150.2,"y":18.3},{"k":"C2","x":-145.9,"y":18.9},{"k":"C2","x":-145.3,"y":15},{"k":"C2","x":-147.9,"y":12.1},{"k":"C2","x":-152.2,"y":12.1},
{"k":"C3","x":-145.9,"y":19.9},{"k":"C3","x":-143.4,"y":20.9},{"k":"C3","x":-140.9,"y":19.9},{"k":"C3","x":-143.4,"y":19.1},
{"k":"C4","x":-130.3,"y":19.9},{"k":"C4","x":-127.8,"y":21.8},{"k":"C4","x":-127.6,"y":19.9},{"k":"C4","x":-129.7,"y":19.1},
{"k":"C5","x":-116.1,"y":12.5},{"k":"C5","x":-113.2,"y":15.2},{"k":"C5","x":-112.2,"y":14},{"k":"C5","x":-114.2,"y":12.1},
{"k":"C6","x":-110.4,"y":17.3},{"k":"C6","x":-109.4,"y":17.3},
{"k":"C7","x":-88.8,"y":14},{"k":"C7","x":-86.9,"y":16.4},{"k":"C7","x":-81,"y":15},{"k":"C7","x":-84.9,"y":12.1},{"k":"C7","x":-87.9,"y":12.9},
{"k":"C8","x":-47.7,"y":19.9},{"k":"C8","x":-46,"y":22.6},{"k":"C8","x":-40.7,"y":22.6},{"k":"C8","x":-41.5,"y":20.3},{"k":"C8","x":-46,"y":18.9},
{"k":"C9","x":-43.9,"y":12.7},{"k":"C9","x":-42.9,"y":12.7},
{"k":"C10","x":-25.8,"y":17.2},{"k":"C10","x":-24.8,"y":17.2},
{"k":"C11","x":-19.7,"y":18.3},{"k":"C11","x":-17.7,"y":19.9},{"k":"C11","x":-16.2,"y":18.3},{"k":"C11","x":-17.7,"y":16.8},
{"k":"C12","x":-0.6,"y":22.8},{"k":"C12","x":1.4,"y":21.8},{"k":"C12","x":0,"y":21},
{"k":"c1","x":-168.1,"y":-14.2},{"k":"c1","x":-164.8,"y":-12.9},{"k":"c1","x":-159,"y":-14.2},{"k":"c1","x":-158,"y":-15.8},{"k":"c1","x":-162.9,"y":-17.2},{"k":"c1","x":-166.8,"y":-16.4},
{"k":"c2","x":-153.7,"y":-17.5},{"k":"c2","x":-149.2,"y":-17.5},{"k":"c2","x":-147.9,"y":-12.9},{"k":"c2","x":-141.4,"y":-12.5},{"k":"c2","x":-142.8,"y":-15.2},{"k":"c2","x":-145.3,"y":-17.2},
{"k":"c3","x":-141,"y":-19.9},{"k":"c3","x":-140,"y":-19.9},
{"k":"c4","x":-130.3,"y":-12.9},{"k":"c4","x":-127.6,"y":-12.9},
{"k":"c5","x":-122.5,"y":-12.9},{"k":"c5","x":-118.7,"y":-12.3},{"k":"c5","x":-115.1,"y":-17.5},{"k":"c5","x":-118,"y":-18.7},{"k":"c5","x":-121,"y":-16.2},
{"k":"c6","x":-96,"y":-14.8},{"k":"c6","x":-92.7,"y":-12.9},{"k":"c6","x":-87.9,"y":-14.8},{"k":"c6","x":-86.9,"y":-17.5},{"k":"c6","x":-93.7,"y":-17.2},
{"k":"c7","x":-87.5,"y":-16.8},{"k":"c7","x":-85.5,"y":-15.6},{"k":"c7","x":-84,"y":-17.5},{"k":"c7","x":-85.9,"y":-19.5},
{"k":"c8","x":-78.1,"y":-14.4},{"k":"c8","x":-73.2,"y":-11.7},{"k":"c8","x":-68.4,"y":-13.6},{"k":"c8","x":-68,"y":-16.8},{"k":"c8","x":-73.2,"y":-16.4},
{"k":"c9","x":-66.8,"y":-13.3},{"k":"c9","x":-62.5,"y":-12.3},{"k":"c9","x":-47,"y":-11.7},{"k":"c9","x":-35.3,"y":-13.3},{"k":"c9","x":-34.3,"y":-16.2},{"k":"c9","x":-27.9,"y":-21},{"k":"c9","x":-32.3,"y":-23.4},{"k":"c9","x":-35.8,"y":-20},{"k":"c9","x":-36.2,"y":-16.8},{"k":"c9","x":-43.1,"y":-13.3},{"k":"c9","x":-50.8,"y":-14.2},{"k":"c9","x":-53.8,"y":-19.1},{"k":"c9","x":-58.6,"y":-18.1},{"k":"c9","x":-62.5,"y":-14.2},
{"k":"c10","x":-28.4,"y":-13.6},{"k":"c10","x":-25.5,"y":-12.5},{"k":"c10","x":-22.8,"y":-14.2},{"k":"c10","x":-25.1,"y":-16.2},{"k":"c10","x":-27.6,"y":-15.6},
{"k":"c11","x":-17.7,"y":-14.8},{"k":"c11","x":-14.8,"y":-14.8},
{"k":"c12","x":24.6,"y":-12.7},{"k":"c12","x":25.6,"y":-12.7},
{"k":"c12b","x":37.2,"y":-12.7},{"k":"c12b","x":42.7,"y":-12.7},
{"k":"c13","x":45.5,"y":-14.8},{"k":"c13","x":47,"y":-14.8},
{"k":"c14","x":49.1,"y":-17.5},{"k":"c14","x":51.4,"y":-16.4},{"k":"c14","x":54.4,"y":-17.5},{"k":"c14","x":51.4,"y":-18.7},
{"k":"c15","x":58.2,"y":-15.2},{"k":"c15","x":63.1,"y":-13.3},{"k":"c15","x":66,"y":-11.7},{"k":"c15","x":77.7,"y":-11.7},{"k":"c15","x":76.8,"y":-14.2},{"k":"c15","x":68,"y":-14.2},{"k":"c15","x":71.9,"y":-17.5},{"k":"c15","x":67,"y":-18.1},{"k":"c15","x":66,"y":-22.6},{"k":"c15","x":61.2,"y":-21},{"k":"c15","x":59.2,"y":-18.1},
{"k":"c16","x":88.4,"y":-15.6},{"k":"c16","x":90,"y":-14.2},{"k":"c16","x":91.8,"y":-15.6},{"k":"c16","x":90,"y":-17.2},
{"k":"c17","x":100.3,"y":-12.9},{"k":"c17","x":102.7,"y":-12.3},{"k":"c17","x":105,"y":-13.6},{"k":"c17","x":102.1,"y":-14.2},
{"k":"c18","x":103.4,"y":-17.5},{"k":"c18","x":105.4,"y":-16.2},{"k":"c18","x":107,"y":-18.1},{"k":"c18","x":105,"y":-19.5},
{"k":"c19","x":110.9,"y":-20.1},{"k":"c19","x":116.7,"y":-18.1},{"k":"c19","x":120.6,"y":-15.2},{"k":"c19","x":117.7,"y":-12.9},{"k":"c19","x":124.5,"y":-11.3},{"k":"c19","x":129.4,"y":-13.3},{"k":"c19","x":129.4,"y":-17.5},{"k":"c19","x":123.5,"y":-19.1},{"k":"c19","x":124.5,"y":-23.4},{"k":"c19","x":114.7,"y":-24},{"k":"c19","x":110.9,"y":-21},
{"k":"c20","x":159.6,"y":-12.9},{"k":"c20","x":162.5,"y":-12.3},{"k":"c20","x":165,"y":-13.3},{"k":"c20","x":162.5,"y":-15.2},
{"k":"n1","x":98.4,"y":17.3},{"k":"n1","x":100.5,"y":18.3},{"k":"n1","x":103,"y":17.5},{"k":"n1","x":100.5,"y":16.4},
{"k":"n2","x":108.9,"y":14},{"k":"n2","x":110.9,"y":16},{"k":"n2","x":114.4,"y":16},{"k":"n2","x":114.8,"y":13.6},{"k":"n2","x":110.9,"y":12.1},
{"k":"n3","x":118.6,"y":12.5},{"k":"n3","x":119.6,"y":16.4},{"k":"n3","x":121.6,"y":16},{"k":"n3","x":124.5,"y":12.5},{"k":"n3","x":120.6,"y":12.1},
{"k":"n4","x":131.7,"y":12.7},{"k":"n4","x":133.8,"y":12.7},
{"k":"n5","x":145,"y":14.8},{"k":"n5","x":146,"y":14.8},
{"k":"n6","x":151.4,"y":12.7},{"k":"n6","x":153.7,"y":12.7},
{"k":"n7","x":147.5,"y":17.5},{"k":"n7","x":149.8,"y":18.7},{"k":"n7","x":152.9,"y":17.3},
{"k":"n8","x":167.7,"y":17},{"k":"n8","x":170.3,"y":18.3},{"k":"n8","x":172.8,"y":17.5},{"k":"n8","x":170.3,"y":15.6}],
"id":[
{"k":"d1","x":-105.5,"y":22.4},{"k":"d1","x":-101.8,"y":22.4},
{"k":"d2","x":-61.5,"y":17.2},{"k":"d2","x":-58.8,"y":20.3},{"k":"d2","x":-54.2,"y":20.7},{"k":"d2","x":-54.8,"y":18},{"k":"d2","x":-58.8,"y":16.4},
{"k":"d3","x":17,"y":22.6},{"k":"d3","x":18.8,"y":23.4},
{"k":"d4","x":43.3,"y":17.5},{"k":"d4","x":47.3,"y":18.3},{"k":"d4","x":51.2,"y":17.5},{"k":"d4","x":47.3,"y":16.8},
{"k":"d5","x":69.4,"y":22},{"k":"d5","x":74.5,"y":25},{"k":"d5","x":77.6,"y":23},{"k":"d5","x":76.7,"y":19.1},{"k":"d5","x":71.5,"y":20},
{"k":"d6","x":84.5,"y":20.3},{"k":"d6","x":85.8,"y":21},{"k":"d6","x":87,"y":20.3},{"k":"d6","x":85.8,"y":19.5},
{"k":"d7","x":100.3,"y":17.2},{"k":"d7","x":100.9,"y":19.5},{"k":"d7","x":102.7,"y":22.6},{"k":"d7","x":103.9,"y":22.6},{"k":"d7","x":102.1,"y":19},{"k":"d7","x":101.8,"y":16.8},
{"k":"d9","x":-11.7,"y":-17.5},{"k":"d9","x":-10.7,"y":-17.5},
{"k":"d10","x":42.7,"y":-15.2},{"k":"d10","x":43.5,"y":-14.7},{"k":"d10","x":44.3,"y":-15.4},{"k":"d10","x":43.5,"y":-16},
{"k":"d11","x":45.2,"y":-16},{"k":"d11","x":50.3,"y":-16.4},{"k":"d11","x":55.5,"y":-20.9},{"k":"d11","x":55.8,"y":-23.4},{"k":"d11","x":51.2,"y":-22.8},{"k":"d11","x":46.4,"y":-18.9}],
"fa":[
{"k":"R1","x":175,"y":17},{"k":"R1","x":176.5,"y":20.5},{"k":"R1","x":179.8,"y":21},{"k":"R1","x":180,"y":21},{"k":"R1","x":180,"y":17},
{"k":"R2","x":-180,"y":20},{"k":"R2","x":-178.5,"y":18.7},{"k":"R2","x":-180,"y":17},
{"k":"R3","x":-8,"y":12.3},{"k":"R3","x":-3.1,"y":12.9},{"k":"R3","x":-2.1,"y":15.6},{"k":"R3","x":0.4,"y":16.8},{"k":"R3","x":2.3,"y":16},{"k":"R3","x":2.1,"y":14},{"k":"R3","x":-0.8,"y":13.3},{"k":"R3","x":-3.1,"y":12.1}],
"fc":[
{"k":"R1","x":-9.5,"y":17.5},{"k":"R1","x":-6,"y":17.9},{"k":"R1","x":-3.1,"y":19.9},{"k":"R1","x":0.8,"y":19.5},{"k":"R1","x":2.3,"y":15},{"k":"R1","x":1.8,"y":11.7},{"k":"R1","x":-1.2,"y":11.7},{"k":"R1","x":-3.1,"y":15},{"k":"R1","x":-7,"y":16.8},
{"k":"R2","x":10.5,"y":19},{"k":"R2","x":22.2,"y":19},{"k":"R2","x":20.3,"y":13},{"k":"R2","x":14.4,"y":10.5},{"k":"R2","x":11.5,"y":13},
{"k":"R3","x":31,"y":16.4},{"k":"R3","x":35.9,"y":19.5},{"k":"R3","x":40.7,"y":21.2},{"k":"R3","x":44.6,"y":18.9},{"k":"R3","x":46.2,"y":15},{"k":"R3","x":47.1,"y":11.7},{"k":"R3","x":42.3,"y":11.1},{"k":"R3","x":41.7,"y":15},{"k":"R3","x":34.9,"y":16},
{"k":"R4","x":-0.6,"y":-12.5},{"k":"R4","x":5.3,"y":-12.5},{"k":"R4","x":3.7,"y":-18.7},{"k":"R4","x":1.8,"y":-16.2},
{"k":"R5","x":168.3,"y":-11.3},{"k":"R5","x":171.2,"y":-11.7},{"k":"R5","x":179.6,"y":-15.2},{"k":"R5","x":179.6,"y":-17.5},{"k":"R5","x":174.2,"y":-17.2},{"k":"R5","x":173.6,"y":-21},{"k":"R5","x":170.3,"y":-18.1},{"k":"R5","x":168.3,"y":-13.3}],
"fd":[
{"k":"N1","x":-53.6,"y":0.4},{"k":"N1","x":-49.7,"y":0.4},{"k":"N1","x":-49.7,"y":-0.4},{"k":"N1","x":-53.6,"y":-0.4},
{"k":"N2","x":45.8,"y":0.5},{"k":"N2","x":55.5,"y":0.5},{"k":"N2","x":55.5,"y":-0.6},{"k":"N2","x":45.8,"y":-0.6},
{"k":"N3","x":60.3,"y":0.6},{"k":"N3","x":67,"y":0.6},{"k":"N3","x":67,"y":-0.6},{"k":"N3","x":60.3,"y":-0.6},
{"k":"N4","x":68.5,"y":0.8},{"k":"N4","x":78.5,"y":0.8},{"k":"N4","x":78.5,"y":-0.8},{"k":"N4","x":68.5,"y":-0.8}]
},
"concat":[
{"width":616,"height":308,"layer":[
{"data":{"name":"bg"},"mark":{"type":"rect","color":"#FCB116"},"encoding":{"x":{"field":"x1","type":"quantitative","scale":{"domain":[-180,180],"nice":false},"axis":null},"x2":{"field":"x2"},"y":{"field":"y1","type":"quantitative","scale":{"domain":[-90,90],"nice":false},"axis":null},"y2":{"field":"y2"}}},
{"data":{"name":"a"},"transform":[{"fold":["n1","n2","n3","n4","t1","t2","t3","t4","t5","m1","m2","m3","m4","u1","u2","u3","u4","u5"],"as":["b","v"]}],"mark":{"type":"area"},"encoding":{"x":{"field":"x","type":"quantitative","axis":{"orient":"top","title":"Full Aqua planet at T159","titleX":289,"titleY":-39,"titleBaseline":"middle","titleAlign":"center","values":[-135,-90,-45,0,45,90,135],"labelPadding":6,"labelOffset":-3,"labelExpr":"abs(datum.value)+'°'+(datum.value<0?'W':'E')"}},"y":{"field":"v","type":"quantitative","axis":{"orient":"left","title":"(a)","titleX":-47,"titleY":-39,"titleAngle":0,"titleBaseline":"middle","titleAlign":"left","values":[-60,-30,0,30,60],"labelPadding":7,"labelExpr":"abs(datum.value)+'°'+(datum.value<0?'S':'N')"}},"y2":{"datum":0},"color":{"field":"b","type":"nominal","legend":null,"scale":{"domain":["n1","n2","n3","n4","t1","t2","t3","t4","t5","m1","m2","m3","m4","u1","u2","u3","u4","u5"],"range":["#B5D334","#00A651","#B5D334","#FCB116","#B5D334","#00A651","#00A9B9","#0083CA","#2E3192","#B5D334","#00A651","#B5D334","#FCB116","#B5D334","#00A651","#00A9B9","#0083CA","#2E3192"]}}}},
{"data":{"name":"a"},"transform":[{"fold":["n1","n2","n3","n4","t1","t2","t3","t4","t5","m1","m2","m3","m4","u1","u2","u3","u4","u5"],"as":["b","v"]}],"mark":{"type":"line","stroke":"#222","strokeWidth":0.9},"encoding":{"x":{"field":"x","type":"quantitative","axis":null},"y":{"field":"v","type":"quantitative","axis":null},"detail":{"field":"b"}}},
{"data":{"name":"fa"},"mark":{"type":"line","interpolate":"cardinal-closed","stroke":"#222","strokeWidth":0.8,"fill":"#ED1C24"},"encoding":{"x":{"field":"x","type":"quantitative","axis":null},"y":{"field":"y","type":"quantitative","axis":null},"detail":{"field":"k"},"order":{"value":null}}},
{"data":{"name":"ia"},"mark":{"type":"line","interpolate":"cardinal-closed","stroke":"#222","strokeWidth":0.9},"encoding":{"x":{"field":"x","type":"quantitative","axis":null},"y":{"field":"y","type":"quantitative","axis":null},"detail":{"field":"k"},"order":{"value":null}}},
{"data":{"name":"mask"},"transform":[{"filter":"datum.s<=1"}],"mark":{"type":"rect","color":"white"},"encoding":{"x":{"field":"x1","type":"quantitative","axis":{"orient":"bottom","title":null,"values":[-135,-90,-45,0,45,90,135],"labelPadding":6,"labelOffset":-3,"labelExpr":"abs(datum.value)+'°'+(datum.value<0?'W':'E')"}},"x2":{"field":"x2"},"y":{"field":"y1","type":"quantitative","axis":{"orient":"right","title":null,"values":[-60,-30,0,30,60],"labelAlign":"right","labelPadding":38,"labelExpr":"abs(datum.value)+'°'+(datum.value<0?'S':'N')"}},"y2":{"field":"y2"}}},
{"data":{"name":"gx"},"mark":{"type":"rule","stroke":"#d0d0d0","strokeWidth":1.2,"strokeDash":[8,3]},"encoding":{"x":{"field":"v","type":"quantitative","axis":null}}},
{"data":{"name":"gy"},"mark":{"type":"rule","stroke":"#d0d0d0","strokeWidth":1.2,"strokeDash":[8,3]},"encoding":{"y":{"field":"v","type":"quantitative","axis":null}}}
],"resolve":{"axis":{"x":"independent","y":"independent"}}},
{"width":16,"height":308,"data":{"name":"bar"},"layer":[
{"mark":{"type":"rect","stroke":"#444","strokeWidth":1},"encoding":{"x":{"datum":0,"type":"quantitative","scale":{"domain":[0,1],"nice":false},"axis":null},"x2":{"datum":1},"y":{"field":"lo","type":"quantitative","scale":{"domain":[0,7],"range":[308,-5]},"axis":{"orient":"left","title":"mm/day","titlePadding":6,"labels":false,"domain":false,"values":[0]}},"y2":{"field":"hi"},"color":{"field":"lo","type":"nominal","legend":null,"scale":{"domain":[0,1,2,3,4,5,6],"range":["#ED1C24","#FCB116","#B5D334","#00A651","#00A9B9","#0083CA","#2E3192"]}}}},
{"mark":{"type":"rect","stroke":"#444","strokeWidth":1},"encoding":{"x":{"datum":0,"type":"quantitative","axis":null},"x2":{"datum":1},"y":{"field":"lo","type":"quantitative","axis":{"orient":"right","title":null,"domain":false,"labelPadding":8,"values":[0,1,2,3,4,5,6,7],"labelExpr":"['0.10','1','2','3','5','8','16','32'][datum.value]"}},"y2":{"field":"hi"},"color":{"field":"lo","type":"nominal","legend":null}}}
],"resolve":{"axis":{"y":"independent"}}},
{"width":616,"height":97,"data":{"name":"spacer"},"mark":{"type":"rule","opacity":0},"encoding":{"x":{"field":"z","type":"quantitative","axis":null}}},
{"width":16,"height":97,"data":{"name":"spacer"},"mark":{"type":"rule","opacity":0},"encoding":{"x":{"field":"z","type":"quantitative","axis":null}}},
{"width":616,"height":308,"layer":[
{"data":{"name":"bg"},"mark":{"type":"rect","color":"#FCB116"},"encoding":{"x":{"field":"x1","type":"quantitative","scale":{"domain":[-180,180],"nice":false},"axis":null},"x2":{"field":"x2"},"y":{"field":"y1","type":"quantitative","scale":{"domain":[-90,90],"nice":false},"axis":null},"y2":{"field":"y2"}}},
{"data":{"name":"b"},"transform":[{"fold":["n1","n2","n3","n4","t1","t2","t3","t4","m1","m2","m3","m4","u1","u2","u3","u4"],"as":["b","v"]}],"mark":{"type":"area"},"encoding":{"x":{"field":"x","type":"quantitative","axis":{"orient":"top","title":"Full Aqua planet at T1279","titleX":288,"titleY":-45,"titleBaseline":"middle","titleAlign":"center","values":[-135,-90,-45,0,45,90,135],"labelPadding":6,"labelOffset":-3,"labelExpr":"abs(datum.value)+'°'+(datum.value<0?'W':'E')"}},"y":{"field":"v","type":"quantitative","axis":{"orient":"left","title":"(b)","titleX":-47,"titleY":-44,"titleAngle":0,"titleBaseline":"middle","titleAlign":"left","values":[-60,-30,0,30,60],"labelPadding":7,"labelExpr":"abs(datum.value)+'°'+(datum.value<0?'S':'N')"}},"y2":{"datum":0},"color":{"field":"b","type":"nominal","legend":null,"scale":{"domain":["n1","n2","n3","n4","t1","t2","t3","t4","m1","m2","m3","m4","u1","u2","u3","u4"],"range":["#B5D334","#00A651","#B5D334","#FCB116","#B5D334","#00A651","#00A9B9","#0083CA","#B5D334","#00A651","#B5D334","#FCB116","#B5D334","#00A651","#00A9B9","#0083CA"]}}}},
{"data":{"name":"b"},"transform":[{"fold":["n1","n2","n3","n4","t1","t2","t3","t4","m1","m2","m3","m4","u1","u2","u3","u4"],"as":["b","v"]}],"mark":{"type":"line","stroke":"#222","strokeWidth":0.9},"encoding":{"x":{"field":"x","type":"quantitative","axis":null},"y":{"field":"v","type":"quantitative","axis":null},"detail":{"field":"b"}}},
{"data":{"name":"ib"},"mark":{"type":"line","interpolate":"cardinal-closed","stroke":"#222","strokeWidth":0.9},"encoding":{"x":{"field":"x","type":"quantitative","axis":null},"y":{"field":"y","type":"quantitative","axis":null},"detail":{"field":"k"},"order":{"value":null}}},
{"data":{"name":"mask"},"transform":[{"filter":"datum.s<=1"}],"mark":{"type":"rect","color":"white"},"encoding":{"x":{"field":"x1","type":"quantitative","axis":{"orient":"bottom","title":null,"values":[-135,-90,-45,0,45,90,135],"labelPadding":6,"labelOffset":-3,"labelExpr":"abs(datum.value)+'°'+(datum.value<0?'W':'E')"}},"x2":{"field":"x2"},"y":{"field":"y1","type":"quantitative","axis":{"orient":"right","title":null,"values":[-60,-30,0,30,60],"labelAlign":"right","labelPadding":38,"labelExpr":"abs(datum.value)+'°'+(datum.value<0?'S':'N')"}},"y2":{"field":"y2"}}},
{"data":{"name":"gx"},"mark":{"type":"rule","stroke":"#d0d0d0","strokeWidth":1.2,"strokeDash":[8,3]},"encoding":{"x":{"field":"v","type":"quantitative","axis":null}}},
{"data":{"name":"gy"},"mark":{"type":"rule","stroke":"#d0d0d0","strokeWidth":1.2,"strokeDash":[8,3]},"encoding":{"y":{"field":"v","type":"quantitative","axis":null}}}
],"resolve":{"axis":{"x":"independent","y":"independent"}}},
{"width":16,"height":308,"data":{"name":"bar"},"layer":[
{"mark":{"type":"rect","stroke":"#444","strokeWidth":1},"encoding":{"x":{"datum":0,"type":"quantitative","scale":{"domain":[0,1],"nice":false},"axis":null},"x2":{"datum":1},"y":{"field":"lo","type":"quantitative","scale":{"domain":[0,7],"range":[308,-5]},"axis":{"orient":"left","title":"mm/day","titlePadding":6,"labels":false,"domain":false,"values":[0]}},"y2":{"field":"hi"},"color":{"field":"lo","type":"nominal","legend":null,"scale":{"domain":[0,1,2,3,4,5,6],"range":["#ED1C24","#FCB116","#B5D334","#00A651","#00A9B9","#0083CA","#2E3192"]}}}},
{"mark":{"type":"rect","stroke":"#444","strokeWidth":1},"encoding":{"x":{"datum":0,"type":"quantitative","axis":null},"x2":{"datum":1},"y":{"field":"lo","type":"quantitative","axis":{"orient":"right","title":null,"domain":false,"labelPadding":8,"values":[0,1,2,3,4,5,6,7],"labelExpr":"['0.10','1','2','3','5','8','16','32'][datum.value]"}},"y2":{"field":"hi"},"color":{"field":"lo","type":"nominal","legend":null}}}
],"resolve":{"axis":{"y":"independent"}}},
{"width":616,"height":91,"data":{"name":"spacer"},"mark":{"type":"rule","opacity":0},"encoding":{"x":{"field":"z","type":"quantitative","axis":null}}},
{"width":16,"height":91,"data":{"name":"spacer"},"mark":{"type":"rule","opacity":0},"encoding":{"x":{"field":"z","type":"quantitative","axis":null}}},
{"width":616,"height":308,"layer":[
{"data":{"name":"bg"},"mark":{"type":"rect","color":"#FCB116"},"encoding":{"x":{"field":"x1","type":"quantitative","scale":{"domain":[-180,180],"nice":false},"axis":null},"x2":{"field":"x2"},"y":{"field":"y1","type":"quantitative","scale":{"domain":[-90,90],"nice":false},"axis":null},"y2":{"field":"y2"}}},
{"data":{"name":"c"},"transform":[{"fold":["n1","n2","n3","n4","t1","t2","t3","t4","t5","m1","m2","m3","m4","u1","u2","u3","u4","u5"],"as":["b","v"]}],"mark":{"type":"area"},"encoding":{"x":{"field":"x","type":"quantitative","axis":{"orient":"top","title":"DARE SE at T159","titleX":295,"titleY":-39,"titleBaseline":"middle","titleAlign":"center","values":[-135,-90,-45,0,45,90,135],"labelPadding":6,"labelOffset":-3,"labelExpr":"abs(datum.value)+'°'+(datum.value<0?'W':'E')"}},"y":{"field":"v","type":"quantitative","axis":{"orient":"left","title":"(c)","titleX":-47,"titleY":-39,"titleAngle":0,"titleBaseline":"middle","titleAlign":"left","values":[-60,-30,0,30,60],"labelPadding":7,"labelExpr":"abs(datum.value)+'°'+(datum.value<0?'S':'N')"}},"y2":{"datum":0},"color":{"field":"b","type":"nominal","legend":null,"scale":{"domain":["n1","n2","n3","n4","t1","t2","t3","t4","t5","m1","m2","m3","m4","u1","u2","u3","u4","u5"],"range":["#B5D334","#00A651","#B5D334","#FCB116","#B5D334","#00A651","#00A9B9","#0083CA","#2E3192","#B5D334","#00A651","#B5D334","#FCB116","#B5D334","#00A651","#00A9B9","#0083CA","#2E3192"]}}}},
{"data":{"name":"c"},"transform":[{"fold":["n1","n2","n3","n4","t1","t2","t3","t4","t5","m1","m2","m3","m4","u1","u2","u3","u4","u5"],"as":["b","v"]}],"mark":{"type":"line","stroke":"#222","strokeWidth":0.9},"encoding":{"x":{"field":"x","type":"quantitative","axis":null},"y":{"field":"v","type":"quantitative","axis":null},"detail":{"field":"b"}}},
{"data":{"name":"fc"},"mark":{"type":"line","interpolate":"cardinal-closed","stroke":"#222","strokeWidth":0.8,"fill":"#ED1C24"},"encoding":{"x":{"field":"x","type":"quantitative","axis":null},"y":{"field":"y","type":"quantitative","axis":null},"detail":{"field":"k"},"order":{"value":null}}},
{"data":{"name":"ic"},"mark":{"type":"line","interpolate":"cardinal-closed","stroke":"#222","strokeWidth":0.9},"encoding":{"x":{"field":"x","type":"quantitative","axis":null},"y":{"field":"y","type":"quantitative","axis":null},"detail":{"field":"k"},"order":{"value":null}}},
{"data":{"name":"mask"},"transform":[{"filter":"datum.s<=2"}],"mark":{"type":"rect","color":"white"},"encoding":{"x":{"field":"x1","type":"quantitative","axis":{"orient":"bottom","title":null,"values":[-135,-90,-45,0,45,90,135],"labelPadding":6,"labelOffset":-3,"labelExpr":"abs(datum.value)+'°'+(datum.value<0?'W':'E')"}},"x2":{"field":"x2"},"y":{"field":"y1","type":"quantitative","axis":{"orient":"right","title":null,"values":[-60,-30,0,30,60],"labelAlign":"right","labelPadding":38,"labelExpr":"abs(datum.value)+'°'+(datum.value<0?'S':'N')"}},"y2":{"field":"y2"}}},
{"data":{"name":"gx"},"mark":{"type":"rule","stroke":"#d0d0d0","strokeWidth":1.2,"strokeDash":[8,3]},"encoding":{"x":{"field":"v","type":"quantitative","axis":null}}},
{"data":{"name":"gy"},"mark":{"type":"rule","stroke":"#d0d0d0","strokeWidth":1.2,"strokeDash":[8,3]},"encoding":{"y":{"field":"v","type":"quantitative","axis":null}}}
],"resolve":{"axis":{"x":"independent","y":"independent"}}},
{"width":16,"height":308,"data":{"name":"bar"},"layer":[
{"mark":{"type":"rect","stroke":"#444","strokeWidth":1},"encoding":{"x":{"datum":0,"type":"quantitative","scale":{"domain":[0,1],"nice":false},"axis":null},"x2":{"datum":1},"y":{"field":"lo","type":"quantitative","scale":{"domain":[0,7],"range":[308,-5]},"axis":{"orient":"left","title":"mm/day","titlePadding":6,"labels":false,"domain":false,"values":[0]}},"y2":{"field":"hi"},"color":{"field":"lo","type":"nominal","legend":null,"scale":{"domain":[0,1,2,3,4,5,6],"range":["#ED1C24","#FCB116","#B5D334","#00A651","#00A9B9","#0083CA","#2E3192"]}}}},
{"mark":{"type":"rect","stroke":"#444","strokeWidth":1},"encoding":{"x":{"datum":0,"type":"quantitative","axis":null},"x2":{"datum":1},"y":{"field":"lo","type":"quantitative","axis":{"orient":"right","title":null,"domain":false,"labelPadding":8,"values":[0,1,2,3,4,5,6,7],"labelExpr":"['0.10','1','2','3','5','8','16','32'][datum.value]"}},"y2":{"field":"hi"},"color":{"field":"lo","type":"nominal","legend":null}}}
],"resolve":{"axis":{"y":"independent"}}},
{"width":616,"height":94,"data":{"name":"spacer"},"mark":{"type":"rule","opacity":0},"encoding":{"x":{"field":"z","type":"quantitative","axis":null}}},
{"width":16,"height":94,"data":{"name":"spacer"},"mark":{"type":"rule","opacity":0},"encoding":{"x":{"field":"z","type":"quantitative","axis":null}}},
{"width":616,"height":308,"layer":[
{"data":{"name":"bg"},"mark":{"type":"rect","color":"#FCB116"},"encoding":{"x":{"field":"x1","type":"quantitative","scale":{"domain":[-180,180],"nice":false},"axis":null},"x2":{"field":"x2"},"y":{"field":"y1","type":"quantitative","scale":{"domain":[-90,90],"nice":false},"axis":null},"y2":{"field":"y2"}}},
{"data":{"name":"d"},"transform":[{"fold":["n1","n2","n3","n4","t1","t2","t3","t4","m1","m2","m3","m4","u1","u2","u3","u4"],"as":["b","v"]}],"mark":{"type":"area"},"encoding":{"x":{"field":"x","type":"quantitative","axis":{"orient":"top","title":"DARE DA at T159","titleX":295,"titleY":-39,"titleBaseline":"middle","titleAlign":"center","values":[-135,-90,-45,0,45,90,135],"labelPadding":6,"labelOffset":-3,"labelExpr":"abs(datum.value)+'°'+(datum.value<0?'W':'E')"}},"y":{"field":"v","type":"quantitative","axis":{"orient":"left","title":"(d)","titleX":-47,"titleY":-39,"titleAngle":0,"titleBaseline":"middle","titleAlign":"left","values":[-60,-30,0,30,60],"labelPadding":7,"labelExpr":"abs(datum.value)+'°'+(datum.value<0?'S':'N')"}},"y2":{"datum":0},"color":{"field":"b","type":"nominal","legend":null,"scale":{"domain":["n1","n2","n3","n4","t1","t2","t3","t4","m1","m2","m3","m4","u1","u2","u3","u4"],"range":["#B5D334","#00A651","#B5D334","#FCB116","#B5D334","#00A651","#00A9B9","#0083CA","#B5D334","#00A651","#B5D334","#FCB116","#B5D334","#00A651","#00A9B9","#0083CA"]}}}},
{"data":{"name":"d"},"transform":[{"fold":["n1","n2","n3","n4","t1","t2","t3","t4","m1","m2","m3","m4","u1","u2","u3","u4"],"as":["b","v"]}],"mark":{"type":"line","stroke":"#222","strokeWidth":0.9},"encoding":{"x":{"field":"x","type":"quantitative","axis":null},"y":{"field":"v","type":"quantitative","axis":null},"detail":{"field":"b"}}},
{"data":{"name":"fd"},"mark":{"type":"line","interpolate":"cardinal-closed","stroke":"#222","strokeWidth":0.8,"fill":"#2E3192"},"encoding":{"x":{"field":"x","type":"quantitative","axis":null},"y":{"field":"y","type":"quantitative","axis":null},"detail":{"field":"k"},"order":{"value":null}}},
{"data":{"name":"id"},"mark":{"type":"line","interpolate":"cardinal-closed","stroke":"#222","strokeWidth":0.9},"encoding":{"x":{"field":"x","type":"quantitative","axis":null},"y":{"field":"y","type":"quantitative","axis":null},"detail":{"field":"k"},"order":{"value":null}}},
{"data":{"name":"mask"},"transform":[{"filter":"datum.s==0"}],"mark":{"type":"rect","color":"white"},"encoding":{"x":{"field":"x1","type":"quantitative","axis":{"orient":"bottom","title":null,"values":[-135,-90,-45,0,45,90,135],"labelPadding":6,"labelOffset":-3,"labelExpr":"abs(datum.value)+'°'+(datum.value<0?'W':'E')"}},"x2":{"field":"x2"},"y":{"field":"y1","type":"quantitative","axis":{"orient":"right","title":null,"values":[-60,-30,0,30,60],"labelAlign":"right","labelPadding":38,"labelExpr":"abs(datum.value)+'°'+(datum.value<0?'S':'N')"}},"y2":{"field":"y2"}}},
{"data":{"name":"gx"},"mark":{"type":"rule","stroke":"#d0d0d0","strokeWidth":1.2,"strokeDash":[8,3]},"encoding":{"x":{"field":"v","type":"quantitative","axis":null}}},
{"data":{"name":"gy"},"mark":{"type":"rule","stroke":"#d0d0d0","strokeWidth":1.2,"strokeDash":[8,3]},"encoding":{"y":{"field":"v","type":"quantitative","axis":null}}}
],"resolve":{"axis":{"x":"independent","y":"independent"}}},
{"width":16,"height":308,"data":{"name":"bar"},"layer":[
{"mark":{"type":"rect","stroke":"#444","strokeWidth":1},"encoding":{"x":{"datum":0,"type":"quantitative","scale":{"domain":[0,1],"nice":false},"axis":null},"x2":{"datum":1},"y":{"field":"lo","type":"quantitative","scale":{"domain":[0,7],"range":[308,-5]},"axis":{"orient":"left","title":"mm/day","titlePadding":6,"labels":false,"domain":false,"values":[0]}},"y2":{"field":"hi"},"color":{"field":"lo","type":"nominal","legend":null,"scale":{"domain":[0,1,2,3,4,5,6],"range":["#ED1C24","#FCB116","#B5D334","#00A651","#00A9B9","#0083CA","#2E3192"]}}}},
{"mark":{"type":"rect","stroke":"#444","strokeWidth":1},"encoding":{"x":{"datum":0,"type":"quantitative","axis":null},"x2":{"datum":1},"y":{"field":"lo","type":"quantitative","axis":{"orient":"right","title":null,"domain":false,"labelPadding":8,"values":[0,1,2,3,4,5,6,7],"labelExpr":"['0.10','1','2','3','5','8','16','32'][datum.value]"}},"y2":{"field":"hi"},"color":{"field":"lo","type":"nominal","legend":null}}}
],"resolve":{"axis":{"y":"independent"}}}
],
"columns":2,"spacing":{"row":0,"column":80},"align":"each","bounds":"flush","resolve":{"scale":{"color":"independent"}}}
